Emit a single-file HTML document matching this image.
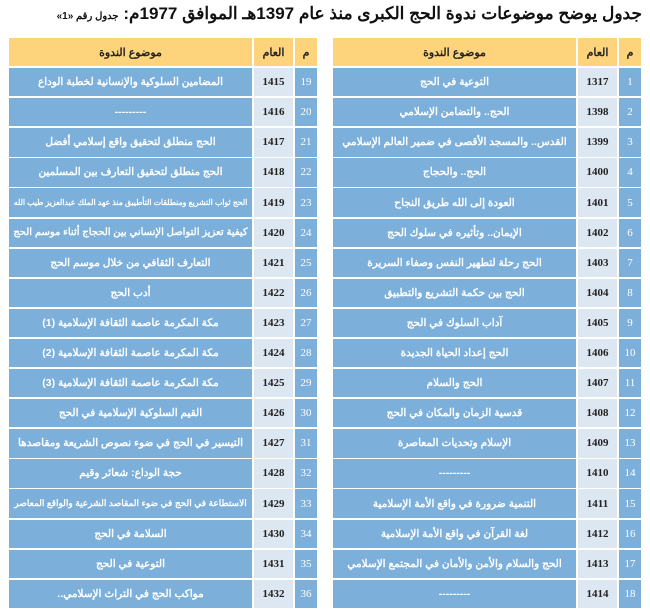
<!DOCTYPE html>
<html><head><meta charset="utf-8"><style>
body{margin:0;width:650px;height:613px;background:#fff;overflow:hidden;font-family:"Liberation Sans","Noto Sans CJK SC",sans-serif;position:relative}
.t{position:absolute;top:4px;right:8px;font-size:17px;font-weight:bold;direction:rtl;white-space:nowrap;color:#111}
.t small{font-size:10px}
.c{position:absolute;display:flex;align-items:center;justify-content:center;box-sizing:border-box;white-space:nowrap;overflow:hidden;direction:rtl}
.h{background:#fdd47c;color:#222;font-weight:bold;font-size:11px}
.tp{background:#7cb0db;color:#fff;font-size:10.5px;font-weight:bold}
.tp span{display:inline-block}
.yr{background:#dde7f1;color:#222;font-size:11px;font-weight:bold;font-family:"Liberation Serif",serif}
.nm{background:#7cb0db;color:#fff;font-size:11px;font-family:"Liberation Serif",serif}
</style></head><body>
<div class="t">جدول يوضح موضوعات ندوة الحج الكبرى منذ عام 1397هـ الموافق 1977م: <small>جدول رقم «1»</small></div>
<div id="g"></div>
<script>
const R=["التوعية في الحج","الحج.. والتضامن الإسلامي","القدس.. والمسجد الأقصى في ضمير العالم الإسلامي","الحج.. والحجاج","العودة إلى الله طريق النجاح","الإيمان.. وتأثيره في سلوك الحج","الحج رحلة لتطهير النفس وصفاء السريرة","الحج بين حكمة التشريع والتطبيق","آداب السلوك في الحج","الحج إعداد الحياة الجديدة","الحج والسلام","قدسية الزمان والمكان في الحج","الإسلام وتحديات المعاصرة","---------","التنمية ضرورة في واقع الأمة الإسلامية","لغة القرآن في واقع الأمة الإسلامية","الحج والسلام والأمن والأمان في المجتمع الإسلامي","---------"];
const RY=[1317,1398,1399,1400,1401,1402,1403,1404,1405,1406,1407,1408,1409,1410,1411,1412,1413,1414];
const LY=[];for(let i=0;i<18;i++)LY.push(1415+i);
const L=["المضامين السلوكية والإنسانية لخطبة الوداع","---------","الحج منطلق لتحقيق واقع إسلامي أفضل","الحج منطلق لتحقيق التعارف بين المسلمين","الحج ثواب التشريع ومنطلقات التأطيبق منذ عهد الملك عبدالعزيز طيب الله","كيفية تعزيز التواصل الإنساني بين الحجاج أثناء موسم الحج","التعارف الثقافي من خلال موسم الحج","أدب الحج","مكة المكرمة عاصمة الثقافة الإسلامية (1)","مكة المكرمة عاصمة الثقافة الإسلامية (2)","مكة المكرمة عاصمة الثقافة الإسلامية (3)","القيم السلوكية الإسلامية في الحج","التيسير في الحج في ضوء نصوص الشريعة ومقاصدها","حجة الوداع: شعائر وقيم","الاستطاعة في الحج في ضوء المقاصد الشرعية والواقع المعاصر","السلامة في الحج","التوعية في الحج","مواكب الحج في التراث الإسلامي.."];
let h="";
function tbl(x0,items,yrs,n0){
 const cols=[[x0,243,"tp"],[x0+245,39,"yr"],[x0+286,22,"nm"]];
 h+=`<div class="c h" style="left:${cols[0][0]}px;top:38px;width:243px;height:28px">موضوع الندوة</div>`;
 h+=`<div class="c h" style="left:${cols[1][0]}px;top:38px;width:39px;height:28px">العام</div>`;
 h+=`<div class="c h" style="left:${cols[2][0]}px;top:38px;width:22px;height:28px">م</div>`;
 for(let i=0;i<18;i++){const y=68+i*30.1;
  const v=[items[i],yrs[i],n0+i];
  cols.forEach((c,j)=>{const txt=j==0?`<span>${v[j]}</span>`:v[j];
   h+=`<div class="c ${c[2]}" style="left:${c[0]}px;top:${y}px;width:${c[1]}px;height:28.4px">${txt}</div>`});
 }
}
tbl(333,R,RY,1);
tbl(9,L,LY,19);
document.getElementById("g").innerHTML=h;
document.querySelectorAll(".tp span").forEach(s=>{let f=10.5;while(s.offsetWidth>236&&f>6){f-=0.25;s.style.fontSize=f+"px";}});
</script>
</body></html>
